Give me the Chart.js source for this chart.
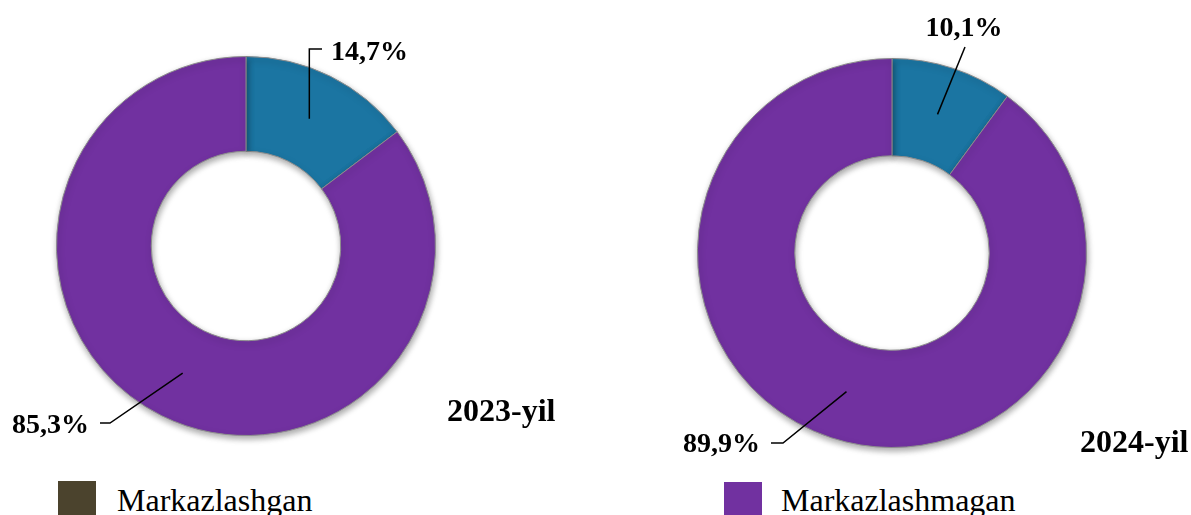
<!DOCTYPE html>
<html><head><meta charset="utf-8">
<script src="https://cdn.jsdelivr.net/npm/chart.js@4.4.1/dist/chart.umd.min.js"></script>
<style>
html,body{margin:0;padding:0;background:#fff;width:1191px;height:515px;overflow:hidden;position:relative;font-family:'Liberation Serif','Times New Roman',serif;}
#c1{position:absolute;left:0;top:0;}
#c2{position:absolute;left:600px;top:0;}
.sw{position:absolute;width:38px;height:34px;}
.lt{position:absolute;font-size:32px;line-height:32px;color:#000;white-space:nowrap;}
</style></head><body>
<canvas id="c1" width="600" height="470"></canvas>
<canvas id="c2" width="591" height="470"></canvas>
<div id="legend"></div>
<script>
// ---- data ----
const categories = ['Markazlashgan', 'Markazlashmagan'];
const years = ['2023-yil', '2024-yil'];
const values2023 = [14.7, 85.3];
const values2024 = [10.1, 89.9];
const sliceColors = ['#1b75a2', '#7131a0'];
const legendColors = ['#4b432d', '#7131a0'];

const fmt = v => v.toFixed(1).replace('.', ',') + '%';

// label / leader-line layout (positions only, canvas coordinates)
const layout2023 = {
  title: {x: 447, y: 421},
  slices: [
    {path: [[null, 49], [322, 49]], text: {x: 331, y: 60, align: 'left'}},
    {path: [[110, 423], [100, 423]], text: {x: 89, y: 433, align: 'right'}}
  ]
};
const layout2024 = {
  title: {x: 480, y: 452},
  slices: [
    {path: [[365, 47]], text: {x: 364, y: 36, align: 'center'}},
    {path: [[183, 443], [171, 443]], text: {x: 160, y: 452, align: 'right'}}
  ]
};

const shadowPlugin = {
  id: 'shadow',
  beforeDatasetDraw(chart) {
    const ctx = chart.ctx;
    ctx.save();
    ctx.shadowColor = 'rgba(0,0,0,0.35)';
    ctx.shadowBlur = 6;
    ctx.shadowOffsetX = 1;
    ctx.shadowOffsetY = 3;
  },
  afterDatasetDraw(chart) { chart.ctx.restore(); }
};

const labelPlugin = {
  id: 'labels',
  afterDraw(chart, args, opts) {
    const ctx = chart.ctx;
    const lay = opts.layout;
    const meta = chart.getDatasetMeta(0);
    const data = chart.data.datasets[0].data;
    ctx.save();
    meta.data.forEach((arc, i) => {
      const s = lay.slices[i];
      const a = arc.tooltipPosition();
      ctx.beginPath();
      ctx.strokeStyle = '#000';
      ctx.lineWidth = 1.5;
      ctx.moveTo(a.x, a.y);
      s.path.forEach(p => ctx.lineTo(p[0] === null ? a.x : p[0], p[1]));
      ctx.stroke();
      ctx.fillStyle = '#000';
      ctx.font = 'bold 28px "Liberation Serif", "Times New Roman", serif';
      ctx.textAlign = s.text.align;
      ctx.textBaseline = 'alphabetic';
      ctx.fillText(fmt(data[i]), s.text.x, s.text.y);
    });
    ctx.font = 'bold 32px "Liberation Serif", "Times New Roman", serif';
    ctx.textAlign = 'left';
    ctx.fillText(opts.title, lay.title.x, lay.title.y);
    ctx.restore();
  }
};

function makeChart(id, values, title, lay, padding) {
  return new Chart(document.getElementById(id), {
    type: 'doughnut',
    data: {
      labels: categories,
      datasets: [{
        data: values,
        backgroundColor: sliceColors,
        borderColor: '#8c8c8c',
        borderWidth: 1
      }]
    },
    options: {
      responsive: false,
      animation: false,
      cutout: '50%',
      layout: {padding: padding},
      plugins: {
        legend: {display: false},
        tooltip: {enabled: false},
        labels: {layout: lay, title: title}
      }
    },
    plugins: [shadowPlugin, labelPlugin]
  });
}

makeChart('c1', values2023, years[0], layout2023, {left: 56, top: 56, right: 164, bottom: 34});
makeChart('c2', values2024, years[1], layout2024, {left: 97, top: 58, right: 104, bottom: 22});

// ---- legend ----
const legendPos = [{sx: 58, sy: 481, tx: 117}, {sx: 724, sy: 482, tx: 781}];
const legEl = document.getElementById('legend');
categories.forEach((c, i) => {
  const sw = document.createElement('div');
  sw.className = 'sw';
  sw.style.left = legendPos[i].sx + 'px';
  sw.style.top = legendPos[i].sy + 'px';
  sw.style.background = legendColors[i];
  legEl.appendChild(sw);
  const t = document.createElement('div');
  t.className = 'lt';
  t.style.left = legendPos[i].tx + 'px';
  t.style.top = '484px';
  t.textContent = c;
  legEl.appendChild(t);
});
</script>
</body></html>
